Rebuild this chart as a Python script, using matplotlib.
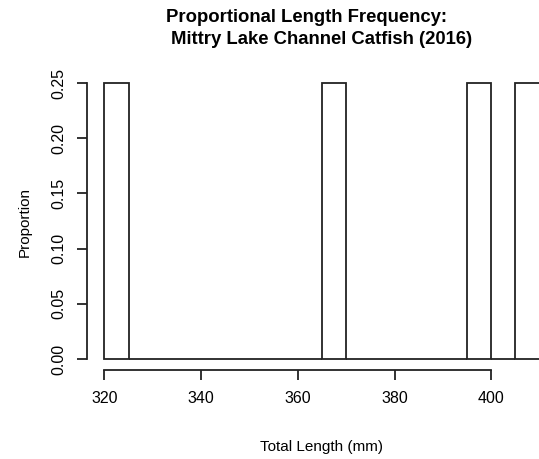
import matplotlib
matplotlib.use('Agg')
import matplotlib.pyplot as plt
import numpy as np

# --- Data: 5 mm length bins and proportion of fish in each ---
bin_edges = np.arange(320, 415, 5)
proportions = [0.25, 0, 0, 0, 0, 0, 0, 0, 0, 0.25,
               0, 0, 0, 0, 0, 0.25, 0, 0.25]
x_ticks = [320, 340, 360, 380, 400]
y_ticks = [0.00, 0.05, 0.10, 0.15, 0.20, 0.25]

plt.rcParams['font.family'] = ['Liberation Sans', 'DejaVu Sans']

fig = plt.figure(figsize=(5.39, 4.59), dpi=100)
# plot region runs past the right edge, like the cropped original
ax = fig.add_axes([87 / 539, 1 - 370 / 459, 470 / 539, 298 / 459])

widths = np.diff(bin_edges)
ax.bar(bin_edges[:-1], proportions, width=widths, align='edge',
       color='white', edgecolor='#222222', linewidth=1.3)

# R-style axes: 4% padding, no box, axis lines only over tick range
ax.set_xlim(316.4, 413.6)
ax.set_ylim(-0.01, 0.26)
for side in ['top', 'right']:
    ax.spines[side].set_visible(False)
ax.spines['left'].set_bounds(0, 0.25)
ax.spines['bottom'].set_bounds(320, 400)
for side in ['left', 'bottom']:
    ax.spines[side].set_linewidth(1.3)
    ax.spines[side].set_color('#222222')

ax.set_xticks(x_ticks)
ax.set_yticks(y_ticks)
ax.set_yticklabels([f'{v:.2f}' for v in y_ticks], rotation=90, va='center')
ax.tick_params(axis='both', length=7, width=1.3, color='#222222',
               pad=8, labelsize=11.5)

fig.text(307 / 539, 1 - 17 / 459, 'Proportional Length Frequency:',
         ha='center', va='center', fontsize=13.3, fontweight='bold')
fig.text(322 / 539, 1 - 40 / 459, 'Mittry Lake Channel Catfish (2016)',
         ha='center', va='center', fontsize=13.3, fontweight='bold')
fig.text(322 / 539, 1 - 447 / 459, 'Total Length (mm)',
         ha='center', va='center', fontsize=11)
fig.text(25 / 539, 1 - 222 / 459, 'Proportion',
         ha='center', va='center', rotation=90, fontsize=11)

plt.savefig('out.png', dpi=100)
